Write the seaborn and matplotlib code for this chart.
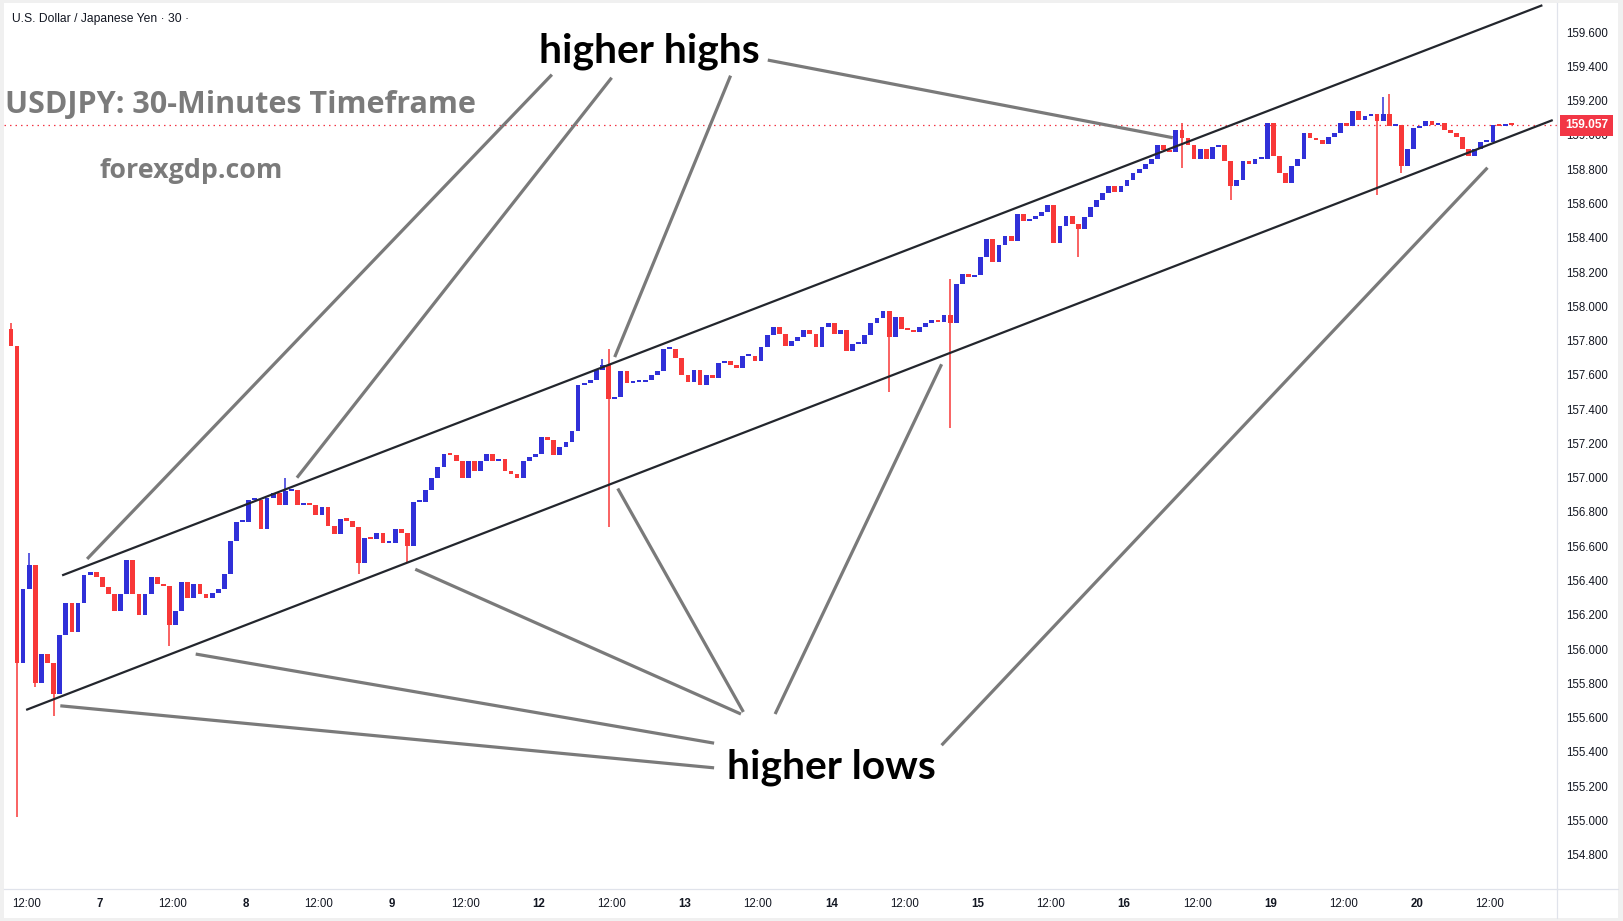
import matplotlib
matplotlib.use("Agg")
import numpy as np
import pandas as pd
import matplotlib.pyplot as plt
from matplotlib.patches import Rectangle
from matplotlib.lines import Line2D
import matplotlib.transforms as mtransforms
import seaborn as sns

# hourly closes (open = previous close)
first_open = 157.87
day6_close = [157.77, 155.92, 156.35, 156.49, 155.80, 155.97, 155.92, 155.74, 156.08, 156.27,
              156.10, 156.27, 156.43, 156.45, 156.42]
day7_close = [156.36, 156.32, 156.22, 156.32, 156.52, 156.32, 156.20, 156.32, 156.42, 156.38,
              156.37, 156.14, 156.22, 156.39, 156.30, 156.38, 156.32, 156.30, 156.33, 156.35,
              156.44, 156.63, 156.74, 156.74]
day8_close = [156.87, 156.87, 156.70, 156.88, 156.91, 156.84, 156.92, 156.93, 156.84, 156.85,
              156.84, 156.78, 156.83, 156.72, 156.67, 156.76, 156.75, 156.71, 156.50, 156.65,
              156.64, 156.68, 156.62, 156.62]
day9_close = [156.70, 156.68, 156.60, 156.86, 156.86, 156.93, 157.00, 157.06, 157.14, 157.13,
              157.10, 157.00, 157.10, 157.04, 157.10, 157.14, 157.10, 157.11, 157.04, 157.02,
              157.00, 157.10, 157.12, 157.14]
day12_close = [157.24, 157.22, 157.13, 157.18, 157.21, 157.27, 157.54, 157.55, 157.57, 157.63,
               157.66, 157.46, 157.47, 157.62, 157.55, 157.56, 157.56, 157.57, 157.60, 157.62,
               157.75, 157.75, 157.70, 157.60]
day13_close = [157.56, 157.63, 157.54, 157.60, 157.58, 157.67, 157.68, 157.66, 157.64, 157.71,
               157.71, 157.68, 157.76, 157.83, 157.88, 157.84, 157.77, 157.80, 157.82, 157.86,
               157.84, 157.76, 157.88, 157.90]
day14_close = [157.84, 157.86, 157.74, 157.78, 157.78, 157.83, 157.90, 157.93, 157.97, 157.82,
               157.94, 157.87, 157.86, 157.85, 157.88, 157.90, 157.92, 157.91, 157.95, 157.90,
               158.13, 158.19, 158.17, 158.18]
day15_close = [158.29, 158.39, 158.26, 158.36, 158.41, 158.38, 158.54, 158.50, 158.51, 158.53,
               158.55, 158.59, 158.37, 158.47, 158.53, 158.48, 158.45, 158.52, 158.58, 158.62,
               158.66, 158.70, 158.67, 158.70]
day16_close = [158.74, 158.78, 158.80, 158.83, 158.86, 158.94, 158.91, 158.90, 159.03, 158.98,
               158.94, 158.86, 158.92, 158.86, 158.93, 158.94, 158.85, 158.70, 158.74, 158.85,
               158.83, 158.86, 158.86, 159.07]
day19_close = [158.88, 158.78, 158.72, 158.82, 158.86, 159.01, 158.98, 158.97, 158.95, 158.99,
               159.01, 159.07, 159.05, 159.14, 159.09, 159.11, 159.12, 159.08, 159.12, 159.05,
               159.06, 158.82, 158.92, 159.04]
day20_close = [159.05, 159.08, 159.06, 159.07, 159.03, 159.01, 158.99, 158.92, 158.88, 158.92,
               158.96, 158.96, 159.06, 159.05, 159.06, 159.057]

sessions = ["6", "7", "8", "9", "12", "13", "14", "15", "16", "19", "20"]
session_closes = [day6_close, day7_close, day8_close, day9_close, day12_close, day13_close,
                  day14_close, day15_close, day16_close, day19_close, day20_close]
first_hour = 9

# long wicks (day, hour, price)
wick_highs = [("6", 9, 157.90), ("6", 12, 156.56), ("8", 6, 157.00), ("12", 10, 157.69),
              ("12", 11, 157.75), ("14", 19, 158.16), ("16", 9, 159.07), ("19", 18, 159.22),
              ("19", 19, 159.24)]
wick_lows = [("6", 10, 155.02), ("6", 13, 155.78), ("6", 16, 155.61), ("7", 11, 156.02),
             ("8", 18, 156.44), ("9", 2, 156.50), ("12", 11, 156.71), ("14", 9, 157.50),
             ("14", 19, 157.29), ("15", 16, 158.29), ("16", 9, 158.81), ("16", 17, 158.62),
             ("19", 17, 158.65), ("19", 21, 158.78)]

last_price = 159.057
price_ticks = [154.8, 155.0, 155.2, 155.4, 155.6, 155.8, 156.0, 156.2, 156.4, 156.6, 156.8,
               157.0, 157.2, 157.4, 157.6, 157.8, 158.0, 158.2, 158.4, 158.6, 158.8, 159.0,
               159.2, 159.4, 159.6]
time_ticks = [("6", 12), ("7", 0), ("7", 12), ("8", 0), ("8", 12), ("9", 0), ("9", 12),
              ("12", 0), ("12", 12), ("13", 0), ("13", 12), ("14", 0), ("14", 12), ("15", 0),
              ("15", 12), ("16", 0), ("16", 12), ("19", 0), ("19", 12), ("20", 0), ("20", 12)]

# drawn lines: (day, hour, price) -> (day, hour, price)
channel_upper = [("6", 17.9, 156.43), ("20", 20.6, 159.757)]
channel_lower = [("6", 12.0, 155.645), ("20", 22.3, 159.087)]
highs_pointers = [[("12", 2.2, 159.352), ("6", 22.0, 156.526)],
                  [("12", 12.0, 159.334), ("8", 8.4, 157.00)],
                  [("13", 7.5, 159.346), ("12", 12.5, 157.704)],
                  [("13", 13.6, 159.437), ("16", 8.0, 158.984)]]
lows_pointers = [[("13", 4.8, 155.307), ("6", 17.6, 155.669)],
                 [("13", 4.8, 155.451), ("7", 15.8, 155.971)],
                 [("13", 9.2, 155.621), ("9", 3.8, 156.466)],
                 [("13", 9.6, 155.633), ("12", 13.0, 156.937)],
                 [("13", 14.8, 155.621), ("14", 18.1, 157.662)],
                 [("14", 18.1, 155.439), ("20", 11.6, 158.809)]]

# ---- bar positions (weekends removed, one unit per hour) ----
day_zero = {}
pos = -first_hour
for d in sessions:
    day_zero[d] = pos
    pos += 24


def t(day, hour):
    return day_zero[day] + hour


rows = []
for d, c in zip(sessions, session_closes):
    h0 = first_hour if d == "6" else 0
    for k, v in enumerate(c):
        rows.append({"day": d, "hour": h0 + k, "close": v})
df = pd.DataFrame(rows)
df["x"] = [t(d, h) + 0.5 for d, h in zip(df["day"], df["hour"])]
df["open"] = df["close"].shift(1).fillna(first_open)
df["high"] = df[["open", "close"]].max(axis=1)
df["low"] = df[["open", "close"]].min(axis=1)
for d, h, p in wick_highs:
    df.loc[(df["day"] == d) & (df["hour"] == h), "high"] = p
for d, h, p in wick_lows:
    df.loc[(df["day"] == d) & (df["hour"] == h), "low"] = p

up_col = "#3030d8"
dn_col = "#f83838"
df["color"] = np.where(df["close"] >= df["open"], up_col, dn_col)

sns.set_theme(style="white")
plt.rcParams["font.family"] = ["Liberation Sans", "DejaVu Sans"]

W, H = 1623, 921
fig = plt.figure(figsize=(W / 100, H / 100), dpi=100)
fig.patch.set_facecolor("#f0f0f0")
fig.patches.append(Rectangle((4 / W, 3 / H), (1618 - 4) / W, (918 - 3) / H,
                             transform=fig.transFigure, facecolor="white",
                             edgecolor="none", zorder=-5))

ax_l, ax_r, ax_t, ax_b = 4, 1557, 3, 889
ax = fig.add_axes([ax_l / W, 1 - ax_b / H, (ax_r - ax_l) / W, (ax_b - ax_t) / H])
ax.set_facecolor("white")

# wicks and bodies
ax.vlines(df["x"], df["low"], df["high"], colors=df["color"], linewidth=1.1, zorder=3)
body = (df["close"] - df["open"]).abs().clip(lower=0.012)
ax.bar(df["x"], body, bottom=df[["open", "close"]].min(axis=1), width=0.78,
       color=df["color"], linewidth=0, zorder=3)

ax.set_xlim(-0.63, 254.0)
ax.set_ylim(154.6, 159.77)

# last price line
ax.axhline(last_price, color="#f23645", linewidth=0.9, linestyle=(0, (1.2, 3.2)), zorder=2)

# channel
for ln in (channel_upper, channel_lower):
    ax.plot([t(d, h) for d, h, _ in ln], [p for _, _, p in ln], color="#23262d",
            linewidth=1.6, solid_capstyle="butt", zorder=4)

for ln in highs_pointers + lows_pointers:
    ax.plot([t(d, h) for d, h, _ in ln], [p for _, _, p in ln], color="#7a7a7a",
            linewidth=2.3, solid_capstyle="butt", zorder=4)

# axes
ax.yaxis.tick_right()
ax.set_yticks(price_ticks)
ax.set_yticklabels([f"{v:.3f}" for v in price_ticks])
ax.set_xticks([t(d, h) for d, h in time_ticks])
ax.set_xticklabels([f"{h:02d}:00" if h else d for d, h in time_ticks])
for lab, (d, h) in zip(ax.get_xticklabels(), time_ticks):
    if h == 0:
        lab.set_fontweight("bold")
ax.tick_params(axis="both", length=0, labelsize=8.3, colors="#131722")
ax.tick_params(axis="y", pad=6.5)
ax.tick_params(axis="x", pad=6.8)
ax.grid(False)
for s in ("top", "left"):
    ax.spines[s].set_visible(False)
for s in ("right", "bottom"):
    ax.spines[s].set_color("#e0e3eb")
    ax.spines[s].set_linewidth(0.9)
fig.add_artist(Line2D([ax_r / W, 1618 / W], [1 - ax_b / H, 1 - ax_b / H],
                      color="#e0e3eb", linewidth=0.9, transform=fig.transFigure))
fig.add_artist(Line2D([ax_r / W, ax_r / W], [3 / H, 1 - ax_b / H],
                      color="#e0e3eb", linewidth=0.9, transform=fig.transFigure))

# last price tag
blend = mtransforms.blended_transform_factory(ax.transAxes, ax.transData)
ax.text(1.0 + 8 / (ax_r - ax_l), last_price, f"{last_price:.3f}", transform=blend,
        ha="left", va="center", fontsize=8.6, fontweight="bold", color="white",
        bbox=dict(boxstyle="square,pad=0.38", facecolor="#f23645", edgecolor="none"),
        clip_on=False, zorder=6)

# texts
fig.text(12 / W, 1 - 19 / H, "U.S. Dollar / Japanese Yen \u00b7 30 \u00b7", fontsize=8.7,
         color="#131722", va="center", ha="left")
big = ["Open Sans", "DejaVu Sans"]
fig.text(5 / W, 1 - 113 / H, "USDJPY: 30-Minutes Timeframe", fontsize=22, family=big,
         fontweight="bold", color="#7b7b7b", va="baseline", ha="left")
fig.text(100 / W, 1 - 178 / H, "forexgdp.com", fontsize=19.3, family=big,
         fontweight="bold", color="#7b7b7b", va="baseline", ha="left")
note = ["Lato", "Open Sans", "DejaVu Sans"]
fig.text(649 / W, 1 - 63 / H, "higher highs", fontsize=29.3, family=note,
         fontweight="bold", color="black", va="baseline", ha="center")
fig.text(831 / W, 1 - 778 / H, "higher lows", fontsize=29.3, family=note,
         fontweight="bold", color="black", va="baseline", ha="center")

fig.savefig("out.png", dpi=100, facecolor=fig.get_facecolor())
